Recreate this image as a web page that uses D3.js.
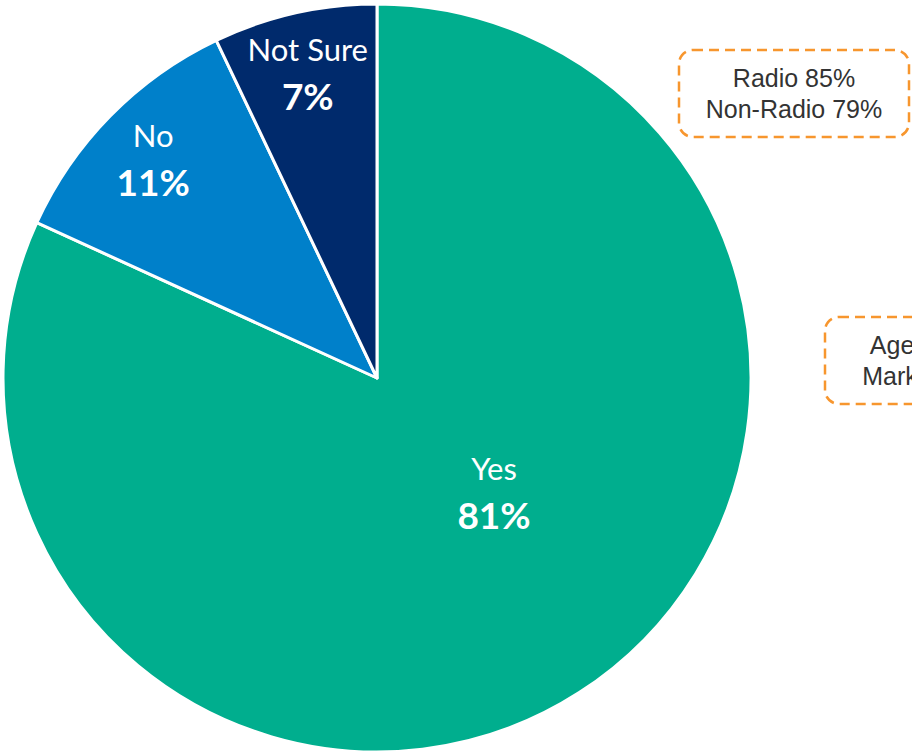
<!DOCTYPE html>
<html>
<head>
<meta charset="utf-8">
<script src="https://cdn.jsdelivr.net/npm/d3@7"></script>
<style>
  html, body { margin: 0; padding: 0; background: #ffffff; overflow: hidden; }
  svg { display: block; }
</style>
</head>
<body>
<svg id="chart" width="912" height="753"></svg>
<script>
// Survey answers, in drawing order (clockwise from 12 o'clock)
const categories = ["Yes", "No", "Not Sure"];
const shares = [81, 11, 7];
const sliceColors = ["#00AE8E", "#0080CA", "#002A6C"];

// Callout boxes with sub-group results
const calloutLines = [
  ["Radio 85%", "Non-Radio 79%"],
  ["Agency 84%", "Marketer 80%"]
];

const svg = d3.select("#chart");
const cx = 377, cy = 378, radius = 374;

const pie = d3.pie().sort(null).value(d => d.value);
const arcs = pie(categories.map((c, i) => ({ name: c, value: shares[i], color: sliceColors[i] })));

const arc = d3.arc().innerRadius(0).outerRadius(radius);

const g = svg.append("g").attr("transform", `translate(${cx},${cy})`);

g.selectAll("path.slice")
  .data(arcs)
  .join("path")
  .attr("class", "slice")
  .attr("d", arc)
  .attr("fill", d => d.data.color)
  .attr("stroke", "#ffffff")
  .attr("stroke-width", 3)
  .attr("stroke-linejoin", "round");

// Label anchor: polar position (angle clockwise from top, radius fraction).
// Small slices sit near their mid-angle; the large slice's label is pulled inward.
function labelAnchor(d) {
  if (d.data.name === "Yes") {
    const a = 134 * Math.PI / 180, r = 0.435 * radius;
    return [r * Math.sin(a), -r * Math.cos(a)];
  }
  const a = (d.startAngle + d.endAngle) / 2;
  const r = 0.84 * radius;
  return [r * Math.sin(a), -r * Math.cos(a)];
}

const labels = g.selectAll("g.label")
  .data(arcs)
  .join("g")
  .attr("class", "label")
  .attr("transform", d => {
    const [x, y] = labelAnchor(d);
    return `translate(${x},${y})`;
  });

labels.append("text")
  .attr("text-anchor", "middle")
  .attr("y", -11)
  .attr("font-family", "Lato, 'Open Sans', sans-serif")
  .attr("font-size", 31)
  .attr("fill", "#ffffff")
  .text(d => d.data.name);

labels.append("text")
  .attr("text-anchor", "middle")
  .attr("y", 38)
  .attr("font-family", "Lato, 'Open Sans', sans-serif")
  .attr("font-weight", "bold")
  .attr("font-size", 37)
  .attr("fill", "#ffffff")
  .text(d => d.data.value + "%");

// Dashed callout boxes
const boxW = 230, boxH = 87;
const boxOrigins = [[679, 50], [825, 317]];

const callouts = svg.selectAll("g.callout")
  .data(calloutLines)
  .join("g")
  .attr("class", "callout")
  .attr("transform", (d, i) => `translate(${boxOrigins[i][0]},${boxOrigins[i][1]})`);

callouts.append("rect")
  .attr("width", boxW)
  .attr("height", boxH)
  .attr("rx", 14)
  .attr("ry", 14)
  .attr("fill", "#ffffff")
  .attr("stroke", "#F7962E")
  .attr("stroke-width", 2.5)
  .attr("stroke-dasharray", "10,6");

callouts.each(function(lines) {
  const t = d3.select(this);
  lines.forEach((line, j) => {
    t.append("text")
      .attr("x", boxW / 2)
      .attr("y", 37 + j * 31)
      .attr("text-anchor", "middle")
      .attr("font-family", "'Liberation Sans', Arial, sans-serif")
      .attr("font-size", 25)
      .attr("fill", "#333333")
      .text(line);
  });
});
</script>
</body>
</html>
